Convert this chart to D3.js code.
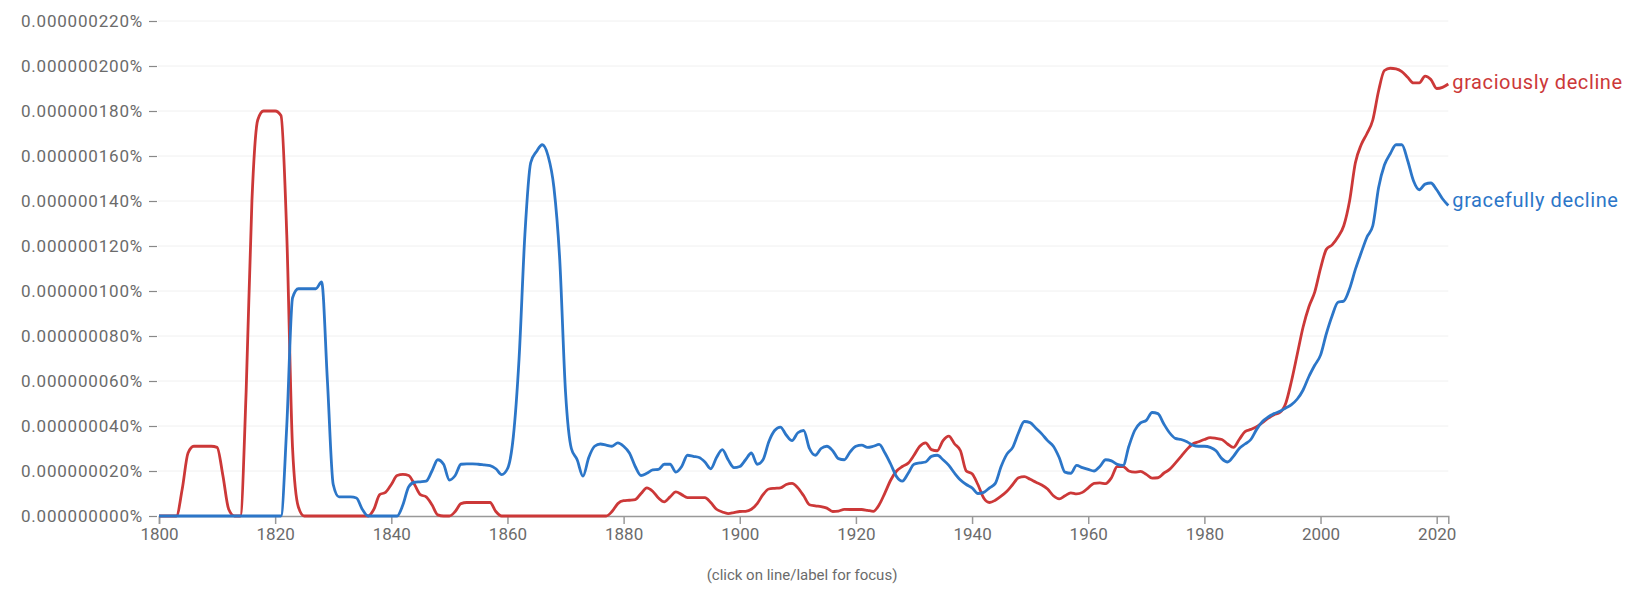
<!DOCTYPE html>
<html>
<head>
<meta charset="utf-8">
<script src="https://cdn.jsdelivr.net/npm/d3@7"></script>
<style>
    body { margin: 0; background: #fff; }
    svg { display: block; font-family: Roboto, "Noto Sans", sans-serif; }
</style>
</head>
<body>
<div class="chart"></div>
<script>
'use strict';

/*---------------------------------------------------------------
data | values in units of 0.000000001%
---------------------------------------------------------------*/
var firstYear = 1800,
    lastYear = 2022;

var seriesNames = ['graciously decline', 'gracefully decline'];

var graciously = [
    // 1800-1819
    0, 0, 0, 0, 12, 28, 31, 31, 31, 31, 30.5, 18, 3, 0, 0, 55, 140, 176, 180, 180,
    // 1820-1839
    180, 178, 125, 30, 4, 0, 0, 0, 0, 0, 0, 0, 0, 0, 0, 0, 0, 3, 9.5, 10.5,
    // 1840-1859
    14, 18, 18.5, 18, 14, 9.5, 8.5, 5, 0.5, 0, 0, 2, 5.5, 6, 6, 6, 6, 6, 2, 0,
    // 1860-1879
    0, 0, 0, 0, 0, 0, 0, 0, 0, 0, 0, 0, 0, 0, 0, 0, 0, 0, 2, 5.5,
    // 1880-1899
    6.8, 7, 7.3, 10, 12.5, 11, 8, 6.3, 8.5, 10.7, 9.5, 8.2, 8.2, 8.2, 8.2, 6, 3, 1.8, 1.1, 1.5,
    // 1900-1919
    2, 2.1, 3, 5.5, 9.5, 12, 12.3, 12.5, 14, 14.5, 12.5, 9, 5, 4.5, 4.2, 3.5, 2, 2.2, 2.9, 2.9,
    // 1920-1939
    2.9, 2.9, 2.5, 2.1, 5, 10.3, 16, 20, 22, 23.5, 27, 31, 32.5, 29.5, 29, 33.5, 35.5, 32, 29, 20,
    // 1940-1959
    18.8, 14, 8, 6, 7, 8.8, 11, 14, 17, 17.5, 16.3, 15, 13.8, 12, 9, 7.6, 9, 10.3, 9.8, 10.5,
    // 1960-1979
    12.5, 14.5, 14.7, 14.4, 17, 22, 22, 20, 19.5, 19.8, 18.5, 16.8, 17, 19, 20.7, 23.5, 26.5, 29.6, 32, 33,
    // 1980-1999
    34, 34.8, 34.5, 34, 32, 30.5, 34, 37.5, 38.5, 39.7, 41.5, 43.5, 45, 46, 50, 60, 72, 84, 93, 99.5,
    // 2000-2022
    110, 118.5, 120.5, 124, 129, 140, 157, 165, 170, 176, 189, 198, 199, 198.7, 197.5, 195, 192.5, 192.5, 195.5, 194,
    190, 190.5, 192
];

var gracefully = [
    // 1800-1819
    0, 0, 0, 0, 0, 0, 0, 0, 0, 0, 0, 0, 0, 0, 0, 0, 0, 0, 0, 0,
    // 1820-1839
    0, 0, 40, 97, 101, 101, 101, 101, 104, 60, 14, 8.5, 8.5, 8.5, 8, 3, 0, 0, 0, 0,
    // 1840-1859
    0, 0, 5, 13, 15, 15.2, 15.5, 20, 25, 23, 16, 18, 23, 23.2, 23.2, 23, 22.7, 22.4, 21, 18.4,
    // 1860-1879
    21, 35, 70, 125, 157, 162, 165, 160, 146, 114, 55, 30, 25, 17.7, 26, 31, 32, 31.5, 31, 32.5,
    // 1880-1899
    31, 28, 22, 18, 19, 20.5, 20.7, 23, 23, 19.5, 22, 27, 26.5, 26, 24, 21, 26, 29.5, 25, 21.5,
    // 1900-1919
    22, 25, 28, 23, 25, 33, 38, 39.5, 36, 33.5, 37, 38, 30, 27, 30, 31, 29, 25.5, 25, 28.5,
    // 1920-1939
    31, 31.5, 30.5, 31, 31.8, 28, 23, 17.5, 15.5, 19, 23, 23.6, 24, 26.5, 27, 25, 22.5, 19, 16, 14,
    // 1940-1959
    12.5, 10, 10.5, 12.5, 14.5, 22, 27.5, 30.5, 37, 42, 41.5, 39, 36.5, 33.5, 31, 26, 19.5, 19, 22.5, 21.5,
    // 1960-1979
    20.7, 20, 22, 25, 24.5, 23, 22.5, 31, 38, 41.4, 42.5, 46, 45.5, 41, 37, 34.5, 34, 33, 31.5, 31,
    // 1980-1999
    31, 30.5, 29, 25.5, 24, 26.5, 30, 32, 34, 38.5, 42, 44, 45.5, 46.5, 48, 49.5, 52, 56, 62, 67,
    // 2000-2022
    71.5, 81, 89, 95, 95.5, 101, 109.6, 117, 124, 129, 146, 156, 161, 165, 165, 158, 149, 145, 147.5, 148,
    145, 141, 138
];

var yTicks = [0, 20, 40, 60, 80, 100, 120, 140, 160, 180, 200, 220];
var xTicks = [1800, 1820, 1840, 1860, 1880, 1900, 1920, 1940, 1960, 1980, 2000, 2020];

var colors = ['#cc3838', '#2c76c8'];
var footnote = '(click on line/label for focus)';

/*---------------------------------------------------------------
make the chart
---------------------------------------------------------------*/
var makeChart = function() {

    var w = 1628,
        h = 600;

    var years = d3.range(firstYear, lastYear + 1);
    var allSeries = [graciously, gracefully];
    var labelShift = [-2, -6]; // nudge end labels up a little

    var x = d3.scaleLinear()
        .domain([firstYear, lastYear])
        .range([159, 1448.3]);

    var y = d3.scaleLinear()
        .domain([0, 220])
        .range([516, 21]);

    var svg = d3.select('.chart')
        .append('svg')
        .attr('width', w)
        .attr('height', h);

    // gridlines
    svg.append('g')
        .selectAll('line')
        .data(yTicks.slice(1))
        .enter()
        .append('line')
        .attr('x1', 158)
        .attr('x2', x(lastYear))
        .attr('y1', function(d) { return y(d); })
        .attr('y2', function(d) { return y(d); })
        .attr('stroke', '#f0f0f0')
        .attr('stroke-width', 1);

    // y axis
    var yAxis = svg.append('g')
        .attr('transform', 'translate(157,0)')
        .call(d3.axisLeft(y)
            .tickValues(yTicks)
            .tickSize(8)
            .tickPadding(6)
            .tickFormat(function(d) { return (d * 1e-9).toFixed(9) + '%'; }));

    yAxis.select('.domain').remove();
    yAxis.selectAll('line').attr('stroke', '#888').attr('stroke-width', 1.2);
    yAxis.selectAll('text')
        .attr('fill', '#6b6b6b')
        .style('font-size', '17px')
        .style('letter-spacing', '0.8px')
        .style('font-family', 'Roboto, sans-serif');

    // x axis
    var xAxis = svg.append('g')
        .attr('transform', 'translate(0,' + y(0) + ')')
        .call(d3.axisBottom(x)
            .tickValues(xTicks)
            .tickSize(8)
            .tickPadding(4)
            .tickFormat(d3.format('d')));

    xAxis.select('.domain').attr('stroke', '#999').attr('stroke-width', 1.5);
    xAxis.selectAll('line').attr('stroke', '#999').attr('stroke-width', 1.5);
    xAxis.selectAll('text')
        .attr('fill', '#6b6b6b')
        .style('font-size', '17px')
        .style('font-family', 'Roboto, sans-serif');

    // lines
    var line = d3.line()
        .x(function(d, i) { return x(years[i]); })
        .y(function(d) { return y(d); })
        .curve(d3.curveMonotoneX);

    svg.selectAll('path.series')
        .data(allSeries)
        .enter()
        .append('path')
        .attr('class', 'series')
        .attr('d', function(d) { return line(d); })
        .attr('fill', 'none')
        .attr('stroke', function(d, i) { return colors[i]; })
        .attr('stroke-width', 2.8)
        .attr('stroke-linejoin', 'round');

    // labels at line ends
    svg.selectAll('text.label')
        .data(allSeries)
        .enter()
        .append('text')
        .attr('class', 'label')
        .attr('x', x(lastYear) + 4)
        .attr('y', function(d, i) { return y(d[d.length - 1]) + labelShift[i]; })
        .attr('dy', '0.35em')
        .attr('fill', function(d, i) { return colors[i]; })
        .style('font-size', '20px')
        .style('letter-spacing', '0.6px')
        .text(function(d, i) { return seriesNames[i]; });

    // footnote
    svg.append('text')
        .attr('x', 802)
        .attr('y', 575)
        .attr('dy', '0.35em')
        .attr('text-anchor', 'middle')
        .attr('fill', '#6b6b6b')
        .style('font-size', '15px')
        .text(footnote);
};

makeChart();
</script>
</body>
</html>
